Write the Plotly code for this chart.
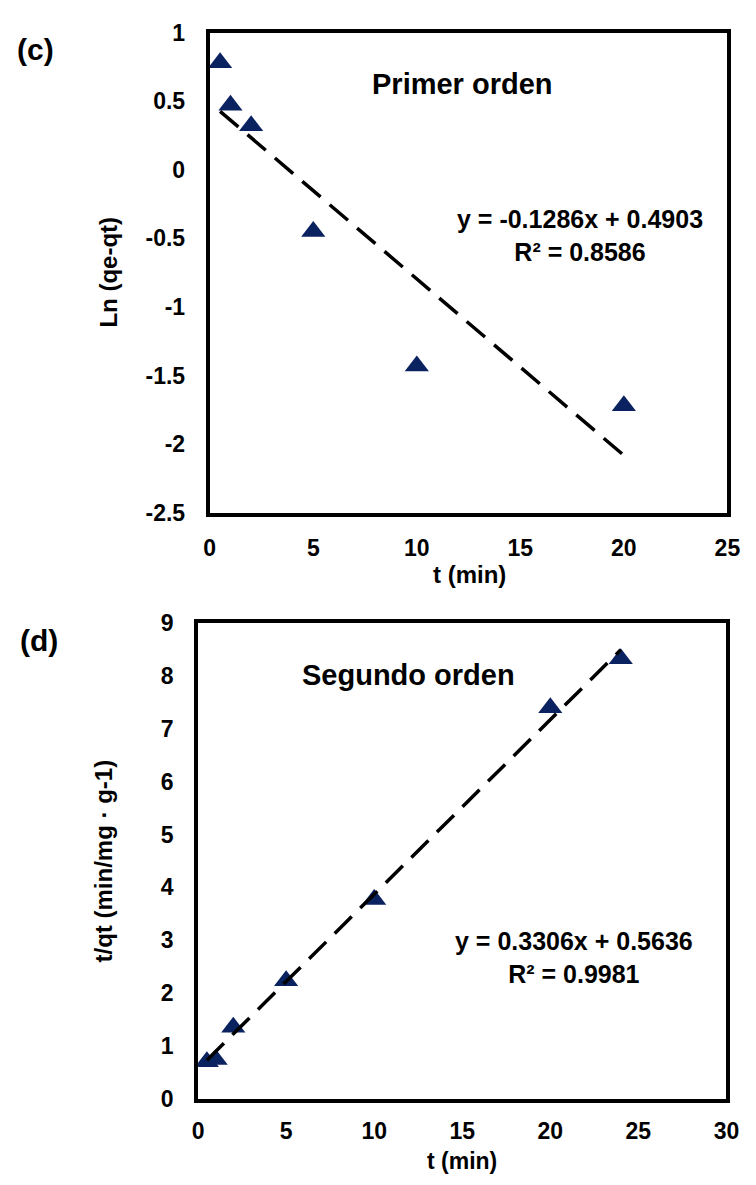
import plotly.graph_objects as go

# Pseudo-first-order kinetics: ln(qe - qt) vs t
t_first = [0.5, 1, 2, 5, 10, 20]
ln_qe_qt = [0.78, 0.47, 0.32, -0.45, -1.43, -1.72]
slope_first, intercept_first = -0.1286, 0.4903
r2_first = 0.8586

# Pseudo-second-order kinetics: t/qt vs t
t_second = [0.5, 1, 2, 5, 10, 20, 24]
t_over_qt = [0.70, 0.74, 1.35, 2.23, 3.77, 7.40, 8.33]
slope_second, intercept_second = 0.3306, 0.5636
r2_second = 0.9981

y1_ticks = [-2.5, -2, -1.5, -1, -0.5, 0, 0.5, 1]
y1_ticktext = ["-2.5", "-2", "-1.5", "-1", "-0.5", "0", "0.5", "1"]
x1_ticks = [0, 5, 10, 15, 20, 25]
x2_ticks = [0, 5, 10, 15, 20, 25, 30]
y2_ticks = [0, 1, 2, 3, 4, 5, 6, 7, 8, 9]

W, H = 756, 1185
FONT = "Liberation Sans, Arial, sans-serif"
MARKER = "#0b2260"


def px(x):
    return x / W


def py(y):
    return 1 - y / H


def trend(xs, m, b):
    xs = [min(xs), max(xs)]
    return xs, [m * x + b for x in xs]


fig = go.Figure()

fig.add_trace(go.Scatter(
    x=t_first, y=ln_qe_qt, mode="markers", xaxis="x", yaxis="y",
    marker=dict(symbol="triangle-up", size=21, color=MARKER), showlegend=False))
tx, ty = trend(t_first, slope_first, intercept_first)
fig.add_trace(go.Scatter(
    x=tx, y=ty, mode="lines", xaxis="x", yaxis="y",
    line=dict(color="black", width=3.5, dash="24px,12px"), showlegend=False))

fig.add_trace(go.Scatter(
    x=t_second, y=t_over_qt, mode="markers", xaxis="x2", yaxis="y2",
    marker=dict(symbol="triangle-up", size=21, color=MARKER), showlegend=False))
tx2, ty2 = trend(t_second, slope_second, intercept_second)
fig.add_trace(go.Scatter(
    x=tx2, y=ty2, mode="lines", xaxis="x2", yaxis="y2",
    line=dict(color="black", width=3.5, dash="24px,12px"), showlegend=False))

axis_common = dict(showline=True, linewidth=4, linecolor="black", mirror=True,
                   showgrid=False, zeroline=False, ticks="",
                   tickfont=dict(family=FONT, size=23, color="black", weight="bold"))

fig.update_layout(
    width=W, height=H, margin=dict(l=0, r=0, t=0, b=0),
    paper_bgcolor="white", plot_bgcolor="white",
    font=dict(family=FONT, color="black", weight="bold"),
    xaxis=dict(domain=[px(209), px(740)], range=[0, 25], tickvals=x1_ticks,
               anchor="y", ticklabelstandoff=12, **axis_common),
    yaxis=dict(domain=[py(511), py(20)], range=[-2.5, 1], tickvals=y1_ticks,
               ticktext=y1_ticktext, anchor="x", ticklabelstandoff=16, **axis_common),
    xaxis2=dict(domain=[px(197), px(739)], range=[0, 30], tickvals=x2_ticks,
                anchor="y2", ticklabelstandoff=9, **axis_common),
    yaxis2=dict(domain=[py(1110), py(624)], range=[0, 9], tickvals=y2_ticks,
                anchor="x2", ticklabelstandoff=16, **axis_common),
)

def note(text, x, y, size, angle=0):
    fig.add_annotation(text=text, x=px(x), y=py(y), xref="paper", yref="paper",
                       showarrow=False, textangle=angle, align="center",
                       xanchor="center", yanchor="middle",
                       font=dict(family=FONT, size=size, color="black", weight="bold"))

note("(c)", 30, 37, 30)
note("(d)", 34, 642, 30)
note("Primer orden", 468, 73, 29)
note("Segundo orden", 413, 677, 29)
note(f"y = {slope_first}x + {intercept_first}<br>R² = {r2_first}", 589, 227, 25)
note(f"y = {slope_second}x + {intercept_second}<br>R² = {r2_second}", 583, 966, 25)
note("Ln (qe-qt)", 105, 265, 24, -90)
note("t/qt (min/mg · g-1)", 100, 867, 24, -90)
note("t (min)", 475, 574, 24)
note("t (min)", 468, 1174, 23)

fig.write_html("out.html")
